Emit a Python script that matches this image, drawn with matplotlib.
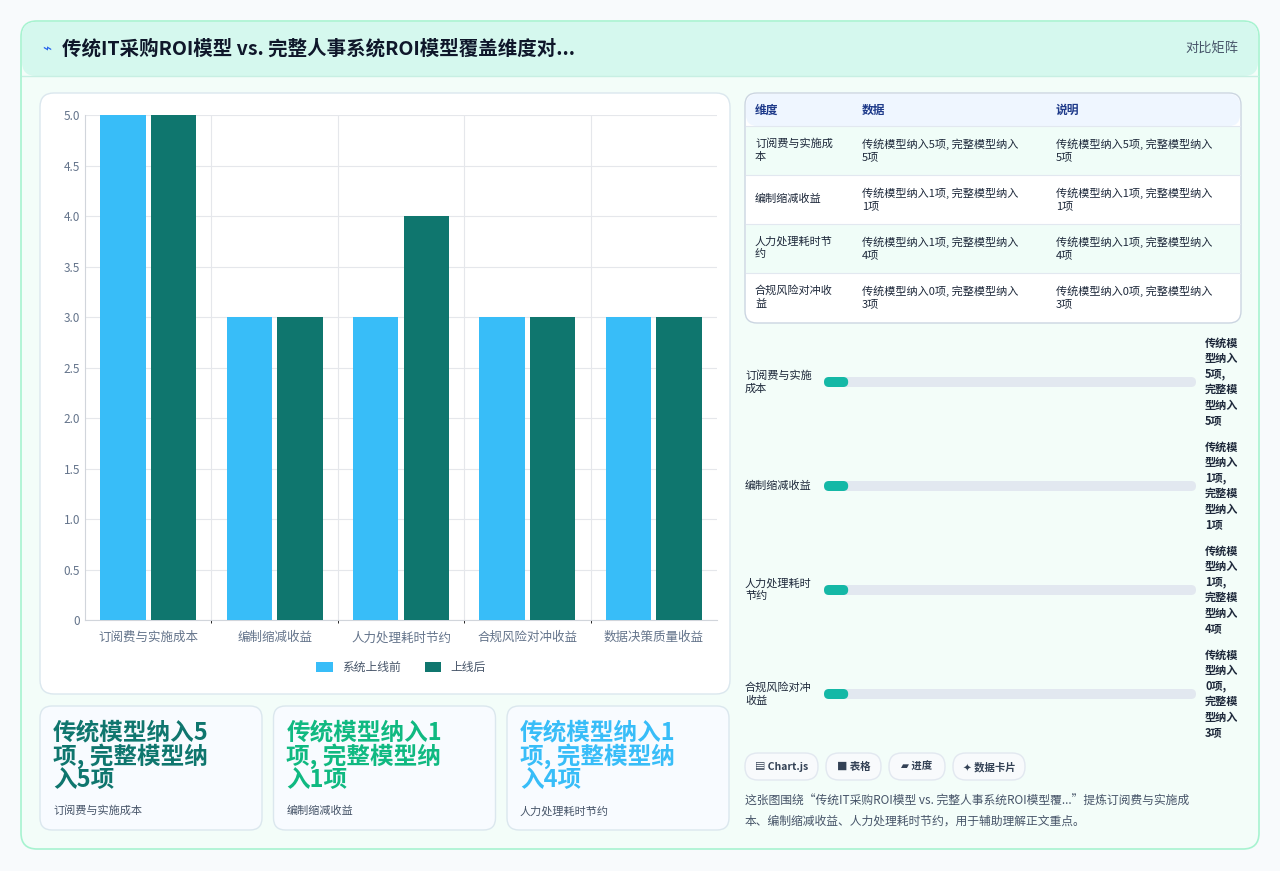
"""Dashboard recreation: ROI model coverage comparison."""

import matplotlib

matplotlib.use("Agg")
import matplotlib.pyplot as plt
from matplotlib.patches import FancyBboxPatch

plt.rcParams["font.family"] = ["Noto Sans CJK SC", "DejaVu Sans"]

TITLE = "传统IT采购ROI模型 vs. 完整人事系统ROI模型覆盖维度对..."
CATEGORIES = ["订阅费与实施成本", "编制缩减收益", "人力处理耗时节约", "合规风险对冲收益", "数据决策质量收益"]
BEFORE = [5, 3, 3, 3, 3]
AFTER = [5, 3, 4, 3, 3]
SERIES = ["系统上线前", "上线后"]
TICKS = [0, 0.5, 1.0, 1.5, 2.0, 2.5, 3.0, 3.5, 4.0, 4.5, 5.0]

TABLE_HEAD = ["维度", "数据", "说明"]
TABLE_ROWS = [
    ["订阅费与实施成\n本", "传统模型纳入5项, 完整模型纳入\n5项", "传统模型纳入5项, 完整模型纳入\n5项"],
    ["编制缩减收益", "传统模型纳入1项, 完整模型纳入\n1项", "传统模型纳入1项, 完整模型纳入\n1项"],
    ["人力处理耗时节\n约", "传统模型纳入1项, 完整模型纳入\n4项", "传统模型纳入1项, 完整模型纳入\n4项"],
    ["合规风险对冲收\n益", "传统模型纳入0项, 完整模型纳入\n3项", "传统模型纳入0项, 完整模型纳入\n3项"],
]

PROGRESS_LABELS = ["订阅费与实施\n成本", "编制缩减收益", "人力处理耗时\n节约", "合规风险对冲\n收益"]
PROGRESS_VALUES = [0.065, 0.065, 0.065, 0.065]
PROGRESS_NOTES = [
    "传统模\n型纳入\n5项,\n完整模\n型纳入\n5项",
    "传统模\n型纳入\n1项,\n完整模\n型纳入\n1项",
    "传统模\n型纳入\n1项,\n完整模\n型纳入\n4项",
    "传统模\n型纳入\n0项,\n完整模\n型纳入\n3项",
]

CARD_VALUES = ["传统模型纳入5\n项, 完整模型纳\n入5项", "传统模型纳入1\n项, 完整模型纳\n入1项", "传统模型纳入1\n项, 完整模型纳\n入4项"]
CARD_LABELS = ["订阅费与实施成本", "编制缩减收益", "人力处理耗时节约"]
CARD_COLORS = ["#0f766e", "#10b981", "#38bdf8"]

BUTTONS = ["▤ Chart.js", "■ 表格", "▰ 进度", "✦ 数据卡片"]
BUTTON_WIDTHS = [73, 55, 56, 72]
SUMMARY = "这张图围绕“传统IT采购ROI模型 vs. 完整人事系统ROI模型覆...”提炼订阅费与实施成\n本、编制缩减收益、人力处理耗时节约，用于辅助理解正文重点。"

BLUE = "#38bdf8"
TEAL = "#0f766e"

W, H = 1280, 871
fig = plt.figure(figsize=(W / 100, H / 100), dpi=100)
fig.patch.set_facecolor("#f8fafc")
bg = fig.add_axes([0, 0, 1, 1])
bg.set_xlim(0, W)
bg.set_ylim(H, 0)
bg.axis("off")


def box(x, y, w, h, r, fc, ec="none", lw=1.0, z=1):
    bg.add_patch(FancyBboxPatch((x, y), w, h, boxstyle=f"round,pad=0,rounding_size={r}",
                                fc=fc, ec=ec, lw=lw, zorder=z))


# outer card + header
box(21, 21, 1238, 828, 16, "#f3fdf9", "#a7f3d0", 1.2)
box(22, 22, 1236, 54, 14, "#d5f8ee", z=1.1)
bg.plot([22, 1258], [76, 76], color="#c7efe3", lw=1, zorder=1.2)
bg.text(42, 49, "⌁", fontsize=11, color="#2563eb", va="center", zorder=3)
bg.text(62, 49, TITLE, fontsize=14, fontweight="bold", color="#0f172a", va="center", zorder=3)
bg.text(1238, 49, "对比矩阵", fontsize=9.5, color="#475569", va="center", ha="right", zorder=3)

# chart card
box(40, 93, 690, 601, 14, "white", "#dbe7ee")

# table
box(745, 93, 496, 230, 12, "white", "#cbd5e1")
box(746, 94, 494, 32, 11, "#eff6ff", z=1.1)
cols = [755, 862, 1056]
for j, head in enumerate(TABLE_HEAD):
    bg.text(cols[j], 110, head, fontsize=8.5, fontweight="bold", color="#1e3a8a", va="center", zorder=3)
for i, row in enumerate(TABLE_ROWS):
    yc = 150 + i * 49
    if i % 2 == 0:
        bg.add_patch(plt.Rectangle((746, yc - 24), 494, 49, fc="#f0fdf8", zorder=1.1))
    bg.plot([746, 1240], [yc - 24, yc - 24], color="#e2e8f0", lw=0.8, zorder=1.2)
    for j, cell in enumerate(row):
        bg.text(cols[j], yc, cell, fontsize=8, color="#1e293b", va="center", zorder=3, linespacing=1.3)

# progress rows
for i, (lab, val, note) in enumerate(zip(PROGRESS_LABELS, PROGRESS_VALUES, PROGRESS_NOTES)):
    yc = 382 + i * 104
    bg.text(745, yc, lab, fontsize=8, color="#1e293b", va="center", zorder=3, linespacing=1.3)
    box(824, yc - 5, 372, 10, 5, "#e2e8f0", z=2)
    box(824, yc - 5, 372 * val, 10, 5, "#14b8a6", z=2.1)
    bg.text(1205, yc, note, fontsize=8, fontweight="bold", color="#1e293b", va="center", zorder=3, linespacing=1.25)

# buttons
bx = 745
for lab, bw in zip(BUTTONS, BUTTON_WIDTHS):
    box(bx, 753, bw, 27, 13, "#f8fafc", "#e2e8f0", z=2)
    bg.text(bx + bw / 2, 767, lab, fontsize=7.5, fontweight="bold", color="#334155",
            ha="center", va="center", zorder=3)
    bx += bw + 8
bg.text(745, 811, SUMMARY, fontsize=8.5, color="#475569", va="center", zorder=3, linespacing=1.7)

# bottom cards
for k, (val, lab, col) in enumerate(zip(CARD_VALUES, CARD_LABELS, CARD_COLORS)):
    x0 = 40 + k * 233.5
    box(x0, 706, 222, 124, 12, "#f8fbff", "#dbe7ee")
    bg.text(x0 + 13, 756, val, fontsize=17, fontweight="bold", color=col, va="center",
            zorder=3, linespacing=0.95)
    bg.text(x0 + 13, 811, lab, fontsize=8, color="#475569", va="center", zorder=3)

# bar chart
ax = fig.add_axes([85 / W, 1 - 620 / H, 632 / W, 505 / H])
ax.set_facecolor("none")
x = list(range(len(CATEGORIES)))
ax.bar([i - 0.2 for i in x], BEFORE, width=0.36, color=BLUE, label=SERIES[0], zorder=3)
ax.bar([i + 0.2 for i in x], AFTER, width=0.36, color=TEAL, label=SERIES[1], zorder=3)
ax.set_xlim(-0.5, len(CATEGORIES) - 0.5)
ax.set_ylim(0, 5)
ax.set_yticks(TICKS, labels=[f"{t:g}" if t == 0 else f"{t:.1f}" for t in TICKS])
ax.set_xticks(x, labels=CATEGORIES)
ax.set_xticks([i + 0.5 for i in x[:-1]], minor=True)
ax.grid(axis="y", color="#e5e7eb", lw=0.8, zorder=0)
ax.grid(axis="x", which="minor", color="#e5e7eb", lw=0.8, zorder=0)
ax.tick_params(axis="both", length=0, labelsize=8.5, colors="#64748b")
ax.tick_params(axis="x", pad=8, labelsize=9)
for s in ["top", "right"]:
    ax.spines[s].set_visible(False)
for s in ["left", "bottom"]:
    ax.spines[s].set_color("#d1d5db")
ax.legend(loc="upper center", bbox_to_anchor=(0.5, -0.06), ncol=2, frameon=False,
          fontsize=8.5, handlelength=1.4, handleheight=0.9, labelcolor="#475569")

fig.savefig("out.png", dpi=100, facecolor=fig.get_facecolor())
